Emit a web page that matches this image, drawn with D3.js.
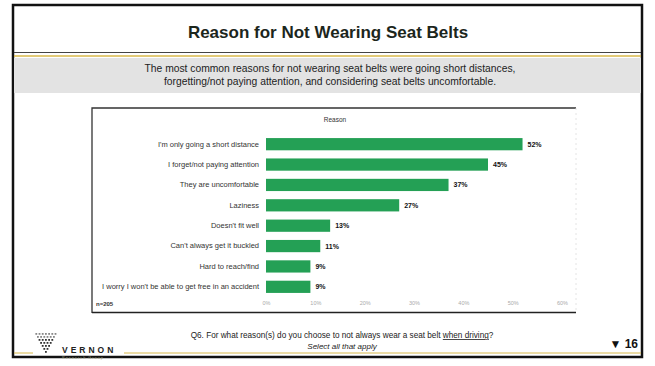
<!DOCTYPE html>
<html><head><meta charset="utf-8">
<script src="https://cdn.jsdelivr.net/npm/d3@7"></script>
<style>body{margin:0;background:#fff}svg{display:block}</style>
</head><body>
<svg id="c" width="655" height="366"></svg>
<script>
const categories = ["I'm only going a short distance","I forget/not paying attention","They are uncomfortable","Laziness","Doesn't fit well","Can't always get it buckled","Hard to reach/find","I worry I won't be able to get free in an accident"];
const values = [52,45,37,27,13,11,9,9];
const tickValues = [0,10,20,30,40,50,60];
const titleText = "Reason for Not Wearing Seat Belts";
const subtitleLines = ["The most common reasons for not wearing seat belts were going short distances,","forgetting/not paying attention, and considering seat belts uncomfortable."];

const svg = d3.select("#c");
const font = "Arial, 'Liberation Sans', sans-serif";

// outer slide frame
svg.append("rect").attr("x",0).attr("y",0).attr("width",655).attr("height",366).attr("fill","#fff");
svg.append("rect").attr("x",13).attr("y",5).attr("width",629).attr("height",352).attr("fill","#fff").attr("stroke","#111").attr("stroke-width",2.5);

// title
svg.append("text").attr("x",328).attr("y",38).attr("text-anchor","middle").attr("font-family",font)
  .attr("font-size",17).attr("font-weight","bold").attr("fill","#1c261c").text(titleText);
svg.append("line").attr("x1",14).attr("x2",641).attr("y1",52.5).attr("y2",52.5).attr("stroke","#444").attr("stroke-width",1.2);
svg.append("line").attr("x1",14).attr("x2",641).attr("y1",56).attr("y2",56).attr("stroke","#d8b84a").attr("stroke-width",1.5);
svg.append("rect").attr("x",14).attr("y",58).attr("width",627).attr("height",35).attr("fill","#e3e3e3");
subtitleLines.forEach((t,i)=>svg.append("text").attr("x",330).attr("y",72+i*13).attr("text-anchor","middle")
  .attr("font-family",font).attr("font-size",10.3).attr("fill","#222").text(t));

// chart box
svg.append("path").attr("d","M92,313 L92,108 L576,108").attr("fill","none").attr("stroke","#333").attr("stroke-width",1.3);
svg.append("line").attr("x1",92).attr("x2",576).attr("y1",312.5).attr("y2",312.5).attr("stroke","#222").attr("stroke-width",1.5);
svg.append("line").attr("x1",576).attr("x2",576).attr("y1",108).attr("y2",312).attr("stroke","#ddd").attr("stroke-width",0.8).attr("stroke-dasharray","2,3");

const x = d3.scaleLinear().domain([0,60]).range([266,562]);
const y = d3.scaleBand().domain(categories).range([134,297]).paddingInner(0.4).paddingOuter(0.2);

svg.append("text").attr("x",335).attr("y",122).attr("text-anchor","middle").attr("font-family",font)
  .attr("font-size",6.5).attr("fill","#333").text("Reason");

const g = svg.append("g");
g.selectAll("rect.bar").data(values).join("rect").attr("class","bar")
  .attr("x",x(0)).attr("y",(d,i)=>y(categories[i])).attr("width",d=>x(d)-x(0)).attr("height",y.bandwidth())
  .attr("fill","#24a055");
g.selectAll("text.val").data(values).join("text").attr("class","val")
  .attr("x",d=>x(d)+5).attr("y",(d,i)=>y(categories[i])+y.bandwidth()/2+2.5)
  .attr("font-family",font).attr("font-size",7).attr("font-weight","bold").attr("fill","#111").text(d=>d+"%");

const yAxis = d3.axisLeft(y).tickSize(0).tickPadding(0);
const ya = svg.append("g").attr("transform","translate(259,0)").call(yAxis);
ya.select(".domain").remove();
ya.selectAll("text").attr("font-family",font).attr("font-size",7.5).attr("fill","#333");

const xAxis = d3.axisBottom(x).tickValues(tickValues).tickFormat(d=>d+"%").tickSize(0).tickPadding(0);
const xa = svg.append("g").attr("transform","translate(0,301)").call(xAxis);
xa.select(".domain").remove();
xa.selectAll("text").attr("font-family",font).attr("font-size",5.5).attr("fill","#aaa");

svg.append("text").attr("x",96).attr("y",306).attr("font-family",font).attr("font-size",6).attr("font-weight","bold").attr("fill","#333").text("n=205");

// footer
svg.append("text").attr("x",342).attr("y",338).attr("text-anchor","middle").attr("font-family",font).attr("font-size",8.2).attr("fill","#222")
  .call(t=>{t.append("tspan").text("Q6. For what reason(s) do you choose to not always wear a seat belt ");
            t.append("tspan").attr("text-decoration","underline").text("when driving");
            t.append("tspan").text("?");});
svg.append("text").attr("x",342).attr("y",349).attr("text-anchor","middle").attr("font-family",font).attr("font-size",8).attr("font-style","italic").attr("fill","#222").text("Select all that apply");
svg.append("text").attr("x",638).attr("y",348).attr("text-anchor","end").attr("font-family",font).attr("font-size",12).attr("font-weight","bold").attr("fill","#111").text("▼ 16");

svg.append("line").attr("x1",14).attr("x2",33).attr("y1",353).attr("y2",353).attr("stroke","#d8b84a").attr("stroke-width",1);
svg.append("line").attr("x1",124).attr("x2",641).attr("y1",353).attr("y2",353).attr("stroke","#d8b84a").attr("stroke-width",1);

// logo
const dots = [];
[[0,7],[1,6],[2,5],[3,4],[4,3],[5,2],[6,1]].forEach(([r,n])=>{for(let k=0;k<n;k++)dots.push([r,k,n]);});
svg.append("g").selectAll("rect").data(dots).join("rect")
  .attr("x",d=>46 - (d[2]-1)*1.6 + d[1]*3.2 -1).attr("y",d=>333+d[0]*3).attr("width",1.8).attr("height",1.8)
  .attr("fill",(d)=>d[0]<2?"#888":"#333");
svg.append("text").attr("x",62).attr("y",353).attr("font-family",font).attr("font-size",8.5).attr("font-weight","bold")
  .attr("letter-spacing",3).attr("fill","#222").text("VERNON");
svg.append("text").attr("x",62).attr("y",359).attr("font-family",font).attr("font-size",3.8).attr("letter-spacing",1).attr("fill","#997").text("Research Group");
</script>
</body></html>
